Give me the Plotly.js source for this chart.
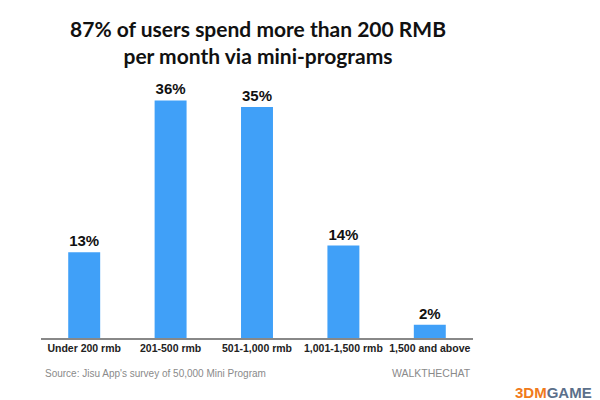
<!DOCTYPE html>
<html>
<head>
<meta charset="utf-8">
<script src="https://cdn.plot.ly/plotly-3.0.1.min.js"></script>
<style>
  html, body { margin: 0; padding: 0; background: #fff; }
  #chart { width: 600px; height: 400px; }
</style>
</head>
<body>
<div id="chart"></div>
<script>
// ── Data ──
const spendBands = ['Under 200 rmb', '201-500 rmb', '501-1,000 rmb', '1,001-1,500 rmb', '1,500 and above'];
const userShare = [13, 36, 35, 14, 2];

const barColor = '#40a0f8';

Plotly.newPlot('chart', [{
    x: spendBands,
    y: userShare,
    type: 'bar',
    marker: { color: barColor },
    text: userShare.map(v => v + '%'),
    textposition: 'outside',
    textfont: { family: 'Liberation Sans, Arial, sans-serif', size: 15, color: '#111', weight: 'bold' },
    cliponaxis: false,
    hoverinfo: 'none',
}], {
    width: 600,
    height: 400,
    paper_bgcolor: '#fff',
    plot_bgcolor: '#fff',
    margin: { l: 41, r: 127, t: 74, b: 62 },
    bargap: 0.63,
    showlegend: false,
    title: {
        text: '87% of users spend more than 200 RMB<br>per month via mini-programs',
        font: { family: 'Lato, Open Sans, sans-serif', size: 21, color: '#111', weight: 'bold' },
        x: 258 / 600,
        xanchor: 'center',
        yref: 'container',
        y: 0.908,
        yanchor: 'middle',
    },
    xaxis: {
        showgrid: false,
        showline: true,
        linecolor: '#888',
        linewidth: 1.5,
        ticks: '',
        tickangle: 0,
        tickfont: { family: 'Liberation Sans, Arial, sans-serif', size: 10.5, color: '#222', weight: 'bold' },
        fixedrange: true,
    },
    yaxis: {
        range: [0, 40],
        showgrid: false,
        showticklabels: false,
        zeroline: false,
        showline: false,
        fixedrange: true,
    },
    annotations: [
        {
            text: "Source: Jisu App's survey of 50,000 Mini Program",
            xref: 'paper', yref: 'paper',
            x: 2 / 432, y: -0.133,
            xanchor: 'left', yanchor: 'middle',
            showarrow: false,
            font: { family: 'Liberation Sans, Arial, sans-serif', size: 10, color: '#8a8a8a' },
        },
        {
            text: 'WALKTHECHAT',
            xref: 'paper', yref: 'paper',
            x: 1, y: -0.133,
            xanchor: 'right', yanchor: 'middle',
            showarrow: false,
            font: { family: 'Liberation Sans, Arial, sans-serif', size: 10.5, color: '#8a8a8a' },
        },
        {
            text: '<span style="color:#f07a1a">3DM</span><span style="color:#5b6f8a">GAME</span>',
            xref: 'paper', yref: 'paper',
            x: 1.28, y: -0.205,
            xanchor: 'right', yanchor: 'middle',
            showarrow: false,
            font: { family: 'Liberation Sans, Arial, sans-serif', size: 15, weight: 'bold' },
        },
    ],
}, { displayModeBar: false, staticPlot: true });
</script>
</body>
</html>
